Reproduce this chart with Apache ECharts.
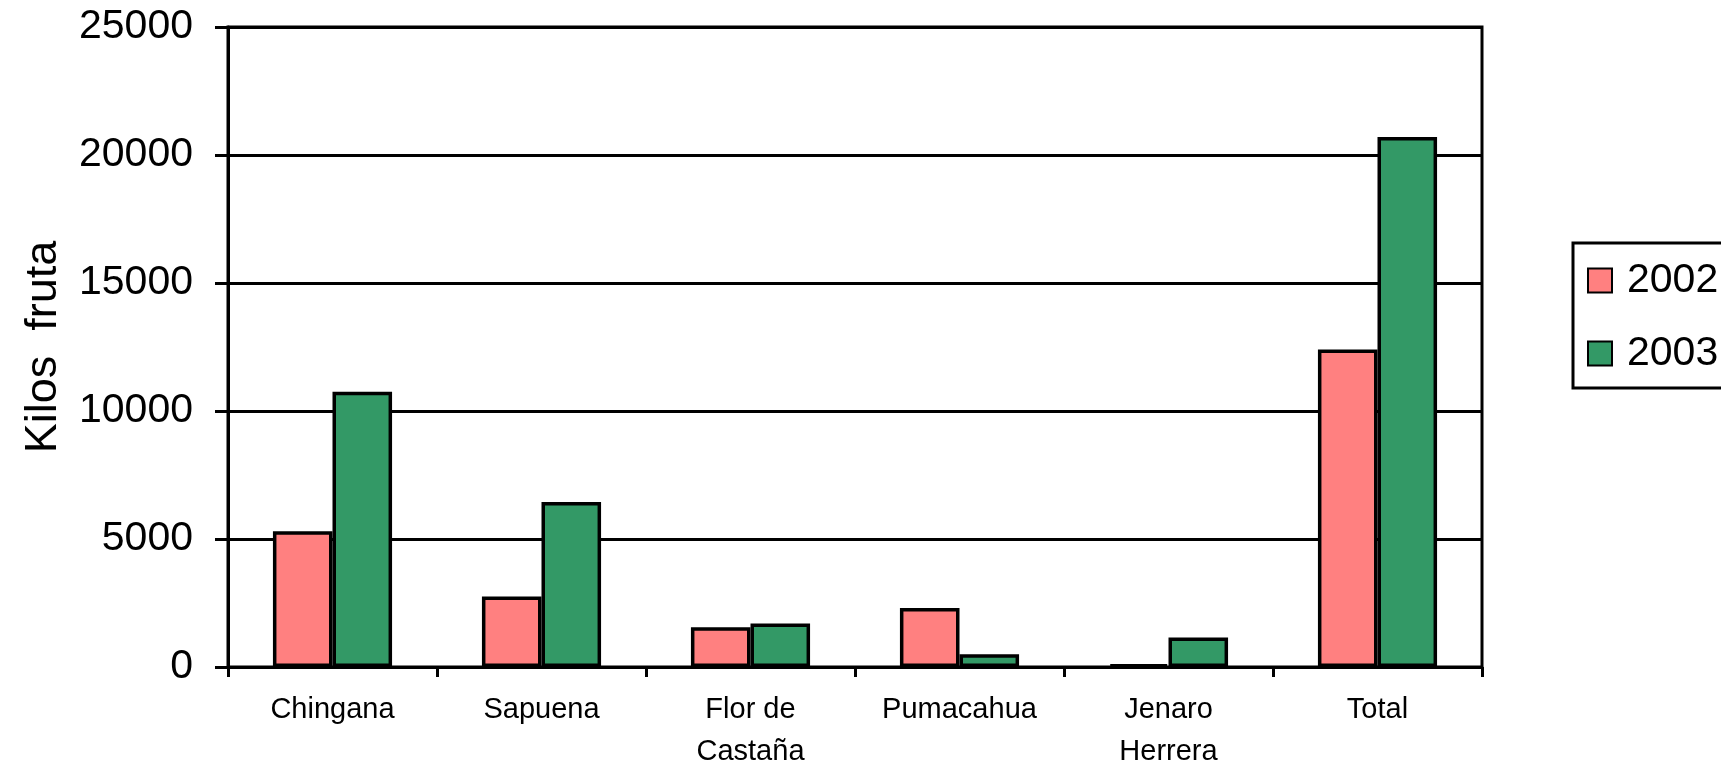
<!DOCTYPE html>
<html>
<head>
<meta charset="utf-8">
<script src="https://cdn.jsdelivr.net/npm/echarts@6/dist/echarts.min.js"></script>
<style>
    html, body { margin: 0; padding: 0; background: #fff; }
    #chart { width: 1721px; height: 765px; }
</style>
</head>
<body>
<div id="chart"></div>
<script>
    // datos
    var categories = ['Chingana', 'Sapuena', 'Flor de\nCastaña', 'Pumacahua', 'Jenaro\nHerrera', 'Total'];
    var seriesNames = ['2002', '2003'];
    var data2002 = [5300, 2750, 1550, 2300, 100, 12400];
    var data2003 = [10750, 6450, 1700, 500, 1150, 20700];
    var yTicks = [0, 5000, 10000, 15000, 20000, 25000];

    var font = "'Liberation Sans', Arial, sans-serif";
    var chart = echarts.init(document.getElementById('chart'));

    chart.setOption({
        animation: false,
        backgroundColor: '#fff',
        grid: {
            left: 228,
            right: 239,
            top: 27,
            bottom: 98,
            outerBoundsMode: 'none',
            show: true,
            borderColor: '#000',
            borderWidth: 3
        },
        legend: {
            data: seriesNames,
            orient: 'vertical',
            left: 1573,
            top: 243,
            padding: [17, 30, 14, 14],
            itemGap: 32,
            itemWidth: 24,
            itemHeight: 24,
            icon: 'rect',
            borderColor: '#000',
            borderWidth: 3,
            textStyle: {
                fontFamily: font,
                fontSize: 41,
                color: '#000',
                lineHeight: 40,
                padding: [0, 0, 0, 10]
            }
        },
        xAxis: {
            type: 'category',
            data: categories,
            axisLine: { lineStyle: { color: '#000', width: 3 } },
            axisTick: { show: true, length: 10, lineStyle: { color: '#000', width: 3 } },
            axisLabel: {
                fontFamily: font,
                fontSize: 29,
                color: '#000',
                lineHeight: 42,
                margin: 22,
                interval: 0
            }
        },
        yAxis: {
            type: 'value',
            min: yTicks[0],
            max: yTicks[yTicks.length - 1],
            interval: 5000,
            name: 'Kilos  fruta',
            nameLocation: 'middle',
            nameRotate: 90,
            nameGap: 162,
            nameTextStyle: {
                fontFamily: font,
                fontSize: 45,
                color: '#000'
            },
            axisLine: { show: true, lineStyle: { color: '#000', width: 3 } },
            axisTick: { show: true, length: 13, lineStyle: { color: '#000', width: 3 } },
            axisLabel: {
                fontFamily: font,
                fontSize: 41,
                color: '#000',
                margin: 35,
                formatter: function (v) { return String(v); }
            },
            splitLine: { lineStyle: { color: '#000', width: 3 } }
        },
        series: [{
            name: seriesNames[0],
            type: 'bar',
            data: data2002,
            barGap: '0%',
            barCategoryGap: '43%',
            itemStyle: {
                color: '#FF8080',
                borderColor: '#000',
                borderWidth: 3.5
            }
        }, {
            name: seriesNames[1],
            type: 'bar',
            data: data2003,
            itemStyle: {
                color: '#339966',
                borderColor: '#000',
                borderWidth: 3.5
            }
        }]
    });
</script>
</body>
</html>
